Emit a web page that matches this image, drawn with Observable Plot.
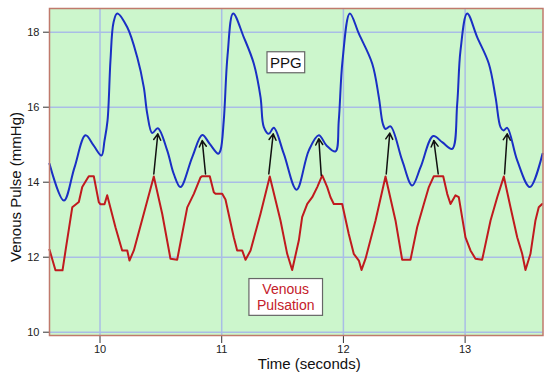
<!DOCTYPE html>
<html><head><meta charset="utf-8">
<script src="https://cdn.jsdelivr.net/npm/d3@7"></script>
<script src="https://cdn.jsdelivr.net/npm/@observablehq/plot@0.6"></script>
<style>body{margin:0;background:#fff;font-family:"Liberation Sans",Arial,sans-serif}</style>
</head><body><div id="chart"></div>
<script>
// PPG (blue) trace: time (s), value
const ppgTime = [9.585,9.703,9.790,9.881,9.947,10.012,10.037,10.062,10.086,10.111,10.141,10.224,10.306,10.360,10.388,10.429,10.475,10.552,10.606,10.661,10.758,10.840,10.900,10.971,10.990,11.017,11.048,11.094,11.181,11.264,11.319,11.346,11.387,11.428,11.510,11.615,11.716,11.798,11.861,11.935,11.962,11.993,12.053,12.127,12.237,12.291,12.324,12.346,12.387,12.483,12.565,12.634,12.738,12.814,12.894,12.935,12.962,13.017,13.099,13.195,13.250,13.291,13.316,13.346,13.428,13.532,13.636];
const ppgValue = [14.49,13.51,14.39,15.25,14.98,14.71,15.11,15.65,17.25,18.26,18.50,18.13,17.33,16.53,15.83,15.31,15.44,14.85,14.22,13.87,14.67,15.26,15.03,14.76,14.85,15.65,17.38,18.50,17.87,17.16,16.27,15.47,15.29,15.45,14.76,13.80,14.85,15.25,14.98,14.82,15.65,17.25,18.50,17.96,17.16,16.27,15.56,15.42,15.49,14.58,13.91,14.40,15.23,15.06,14.89,16.09,17.51,18.50,17.87,17.16,16.27,15.47,15.38,15.45,14.58,13.87,14.76];

// Venous pulsation (red) trace
const venTime = [9.585,9.634,9.692,9.717,9.772,9.826,9.854,9.895,9.908,9.949,9.990,10.004,10.037,10.059,10.127,10.182,10.224,10.242,10.278,10.374,10.442,10.511,10.579,10.634,10.717,10.771,10.826,10.840,10.902,10.935,10.949,11.004,11.031,11.099,11.127,11.168,11.196,11.237,11.319,11.395,11.483,11.538,11.579,11.634,11.661,11.703,11.744,11.785,11.826,11.867,11.894,11.921,11.990,12.044,12.085,12.127,12.149,12.182,12.264,12.346,12.428,12.483,12.551,12.606,12.661,12.702,12.743,12.820,12.853,12.880,12.921,12.948,13.003,13.044,13.085,13.140,13.209,13.264,13.318,13.373,13.428,13.469,13.496,13.537,13.578,13.605,13.633];
const venValue = [12.20,11.65,11.65,12.18,13.33,13.47,13.87,14.09,14.16,14.16,13.47,13.41,13.41,13.65,12.80,12.18,12.18,11.91,12.18,13.33,14.15,13.16,11.96,11.93,13.33,13.69,14.13,14.16,14.16,13.73,13.69,13.69,13.54,12.53,12.18,12.18,11.93,12.18,13.16,14.15,12.98,12.09,11.66,12.45,13.07,13.42,13.60,13.87,14.18,13.87,13.60,13.42,13.42,12.62,12.09,11.91,11.66,11.96,12.98,14.15,12.98,11.93,11.93,12.80,13.42,13.87,14.16,14.16,13.69,13.42,13.65,13.60,12.53,12.18,11.96,11.93,12.98,13.60,14.15,13.33,12.53,12.09,11.66,12.09,12.98,13.33,13.42];

// Arrows from venous peaks to PPG notches
const arrowT1 = [10.442,10.867,11.387,11.818,12.352,12.779,13.324];
const arrowV1 = [14.22,14.22,14.22,14.18,14.22,14.22,14.22];
const arrowT2 = [10.475,10.840,11.423,11.798,12.381,12.743,13.346];
const arrowV2 = [15.29,15.11,15.29,15.16,15.31,15.11,15.29];

const xTicks = [10,11,12,13];
const yTicks = [10,12,14,16,18];
const xDomain = [9.585,13.64];
const yDomain = [9.912,18.632];

const labelNames = ["PPG","Venous\nPulsation"];
const labelT = [11.527,11.526];
const labelV = [17.18,10.95];

const xTitle = "Time (seconds)";
const yTitle = "Venous Pulse (mmHg)";

const ppg = ppgTime.map((t,i)=>({t, v: ppgValue[i]}));
const ven = venTime.map((t,i)=>({t, v: venValue[i]}));
const arrows = arrowT1.map((t,i)=>({x1:t,y1:arrowV1[i],x2:arrowT2[i],y2:arrowV2[i]}));

const svg = Plot.plot({
  width: 550, height: 380,
  marginLeft: 49, marginRight: 7.5, marginTop: 8, marginBottom: 45,
  x: {domain: xDomain},
  y: {domain: yDomain},
  style: {fontFamily: '"Liberation Sans", Arial, sans-serif', fontSize: "11px", color: "#222", background: "white"},
  marks: [
    Plot.frame({fill: "#ccf6cc", stroke: null}),
    Plot.gridX(xTicks, {stroke: "#a9bde6", strokeOpacity: 1, strokeWidth: 1.5}),
    Plot.gridY(yTicks, {stroke: "#a9bde6", strokeOpacity: 1, strokeWidth: 1.5}),
    Plot.axisX(xTicks, {tickSize: 8, tickPadding: 2, tickFormat: d => d, label: null, fontSize: 11, stroke: "#333"}),
    Plot.axisY(yTicks, {tickSize: 6, tickPadding: 4, label: null, fontSize: 11, stroke: "#333"}),
    Plot.line(ppg, {x: "t", y: "v", stroke: "#1a2fc4", strokeWidth: 2, curve: "catmull-rom"}),
    Plot.line(ven, {x: "t", y: "v", stroke: "#c01a1e", strokeWidth: 2}),
    Plot.arrow(arrows, {x1: "x1", y1: "y1", x2: "x2", y2: "y2", stroke: "#111", strokeWidth: 1.5, headLength: 7}),
    Plot.text([labelNames[0]], {x: () => labelT[0], y: () => labelV[0], text: d => d, fontSize: 15, fill: "#111"}),
    Plot.text([labelNames[1]], {x: () => labelT[1], y: () => labelV[1], text: d => d, fontSize: 14, fill: "#c4202a", lineHeight: 1.2}),
    Plot.text([xTitle], {frameAnchor: "bottom", textAnchor: "middle", lineAnchor: "middle", dx: 13, dy: 29, fontSize: 15, fill: "#111"}),
    Plot.text([yTitle], {frameAnchor: "left", textAnchor: "middle", lineAnchor: "middle", rotate: -90, dx: -33, dy: 15, fontSize: 15, fill: "#111"}),
    Plot.frame({stroke: "#c07a6c", strokeWidth: 1.5})
  ]
});
document.getElementById("chart").append(svg);

const pads = {"PPG": [3, 2], "VenousPulsation": [8, 2]};
for (const t of svg.querySelectorAll("text")) {
  const key = t.textContent.trim();
  if (!(key in pads)) continue;
  const b = t.getBBox();
  const [px, py] = pads[key];
  const r = document.createElementNS("http://www.w3.org/2000/svg", "rect");
  r.setAttribute("x", b.x - px);
  r.setAttribute("y", b.y - py);
  r.setAttribute("width", b.width + 2 * px);
  r.setAttribute("height", b.height + 2 * py);
  r.setAttribute("fill", "white");
  r.setAttribute("stroke", "#666");
  r.setAttribute("stroke-width", 1.2);
  if (t.getAttribute("transform")) r.setAttribute("transform", t.getAttribute("transform"));
  t.parentNode.insertBefore(r, t);
}
</script>
</body></html>
